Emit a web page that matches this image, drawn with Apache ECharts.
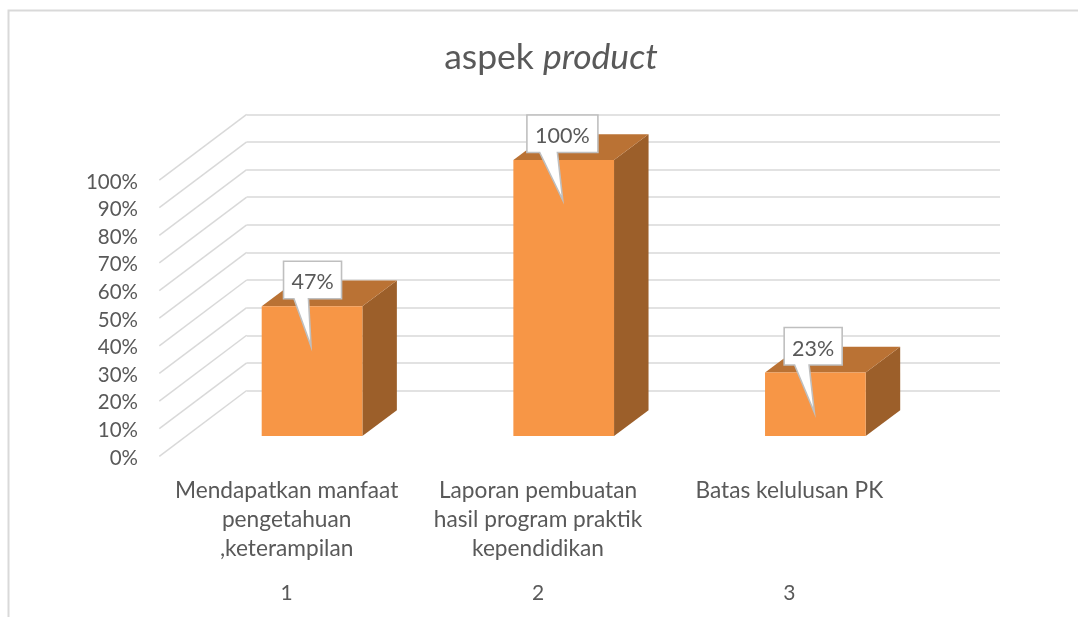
<!DOCTYPE html>
<html>
<head>
<meta charset="utf-8">
<style>
  html, body { margin: 0; padding: 0; background: #fff; }
  #chart { width: 1078px; height: 617px; }
</style>
<script src="https://cdn.jsdelivr.net/npm/echarts@6/dist/echarts.min.js"></script>
</head>
<body>
<div id="chart"></div>
<script>
const categories = [
  "Mendapatkan manfaat\npengetahuan\n,keterampilan",
  "Laporan pembuatan\nhasil program praktik\nkependidikan",
  "Batas kelulusan PK",
];
const numbers = ["1", "2", "3"];
const values = [47, 100, 23];
const yTicks = [0, 10, 20, 30, 40, 50, 60, 70, 80, 90, 100];

const FONT = "Lato";
const TEXT = "#595959";
const GRID_LINE = "#D9D9D9";
const FRONT = "#F79646";
const TOP = "#BA7234";
const SIDE = "#9C5F2A";
// how far the 3d box and the floor go back, in pixels
const BAR_DX = 34.5, BAR_DY = 25.7;
const WALL_DX = 87.4, WALL_DY = 65.8;
const CALLOUT_SHIFT = [0.5, -1.3, -2.2];

function renderWallLine(params, api) {
  const p = api.coord([0, api.value(0)]);
  return {
    type: "line",
    shape: { x1: p[0], y1: p[1], x2: p[0] - WALL_DX, y2: p[1] + WALL_DY },
    style: { stroke: GRID_LINE, lineWidth: 1.5 },
  };
}

function renderBar(params, api) {
  const top = api.coord([api.value(0), api.value(1)]);
  const base = api.coord([api.value(0), 0]);
  const w = api.size([1, 0])[0] * 0.4;
  const l = top[0] - w / 2, r = top[0] + w / 2;
  return {
    type: "group",
    children: [
      { type: "polygon", shape: { points: [[r, top[1]], [r + BAR_DX, top[1] - BAR_DY], [r + BAR_DX, base[1] - BAR_DY], [r, base[1]]] }, style: { fill: SIDE } },
      { type: "polygon", shape: { points: [[l, top[1]], [l + BAR_DX, top[1] - BAR_DY], [r + BAR_DX, top[1] - BAR_DY], [r, top[1]]] }, style: { fill: TOP } },
      { type: "rect", shape: { x: l, y: top[1], width: w, height: base[1] - top[1] }, style: { fill: FRONT } },
    ],
  };
}

function renderCallout(params, api) {
  const top = api.coord([api.value(0), api.value(1)]);
  const label = api.value(1) + "%";
  const w = label.length * 13 + 19;
  const cx = top[0] + CALLOUT_SHIFT[params.dataIndex];
  const y1 = top[1] - 45, y2 = top[1] - 7.5;
  const tip = [top[0] - 1, top[1] + 40];
  const points = [
    [cx - w / 2, y1], [cx + w / 2, y1], [cx + w / 2, y2],
    [cx - w * 0.07, y2], tip, [cx - w * 0.32, y2], [cx - w / 2, y2],
  ];
  return {
    type: "group",
    children: [
      { type: "polygon", shape: { points: points }, style: { fill: "#fff", stroke: "#BFBFBF", lineWidth: 1.6 } },
      { type: "text", style: { x: cx, y: (y1 + y2) / 2 + 2.5, text: label, fill: TEXT, font: "21.5px " + FONT, align: "center", verticalAlign: "middle" } },
    ],
  };
}

const chart = echarts.init(document.getElementById("chart"), null, { renderer: "canvas" });
chart.setOption({
  animation: false,
  backgroundColor: "#fff",
  title: {
    text: "aspek {i|product}",
    left: 546,
    top: 35,
    textAlign: "center",
    textStyle: {
      fontFamily: FONT, fontSize: 35.5, fontWeight: "normal", color: TEXT,
      rich: { i: { fontFamily: FONT, fontSize: 35.5, fontStyle: "italic", color: TEXT } },
    },
  },
  graphic: [
    { type: "polyline", silent: true, z: -1, shape: { points: [[8.5, 617], [8.5, 10.5], [1078, 10.5]] }, style: { stroke: GRID_LINE, lineWidth: 2, fill: null } },
  ],
  grid: [
    { left: 246.7, top: 114.3, width: 753.3, height: 276.2 },
    { left: 186.2, top: 160, width: 755, height: 276 },
    { left: 161, top: 182, width: 754, height: 276 },
  ],
  xAxis: [
    { gridIndex: 0, type: "value", min: 0, max: 1, show: false },
    { gridIndex: 1, type: "category", data: categories, show: false },
    {
      gridIndex: 2, type: "category", data: categories, position: "bottom",
      axisLine: { show: false }, axisTick: { show: false },
      axisLabel: { margin: 18, interval: 0, fontFamily: FONT, fontSize: 22.7, lineHeight: 29, color: TEXT, verticalAlign: "top" },
    },
    {
      gridIndex: 2, type: "category", data: numbers, position: "bottom", offset: 125,
      axisLine: { show: false }, axisTick: { show: false },
      axisLabel: { margin: 0, interval: 0, fontFamily: FONT, fontSize: 21, color: TEXT, verticalAlign: "top" },
    },
  ],
  yAxis: [
    {
      gridIndex: 0, type: "value", min: 0, max: 100, interval: 10,
      axisLine: { show: false }, axisTick: { show: false }, axisLabel: { show: false },
      splitLine: { show: true, lineStyle: { color: GRID_LINE, width: 1.5 } },
    },
    { gridIndex: 1, type: "value", min: 0, max: 100, show: false },
    {
      gridIndex: 2, type: "value", min: 0, max: 100, interval: 10,
      axisLine: { show: false }, axisTick: { show: false }, splitLine: { show: false },
      axisLabel: { margin: 23, formatter: "{value}%", fontFamily: FONT, fontSize: 20.5, color: TEXT },
    },
  ],
  series: [
    { type: "custom", xAxisIndex: 0, yAxisIndex: 0, z: 1, renderItem: renderWallLine, encode: { y: 0 }, data: yTicks.map((t) => [t]) },
    { type: "custom", xAxisIndex: 1, yAxisIndex: 1, z: 2, renderItem: renderBar, encode: { x: 0, y: 1 }, data: values.map((v, i) => [i, v]) },
    { type: "custom", xAxisIndex: 1, yAxisIndex: 1, z: 3, renderItem: renderCallout, encode: { x: 0, y: 1 }, data: values.map((v, i) => [i, v]) },
  ],
});
</script>
</body>
</html>
